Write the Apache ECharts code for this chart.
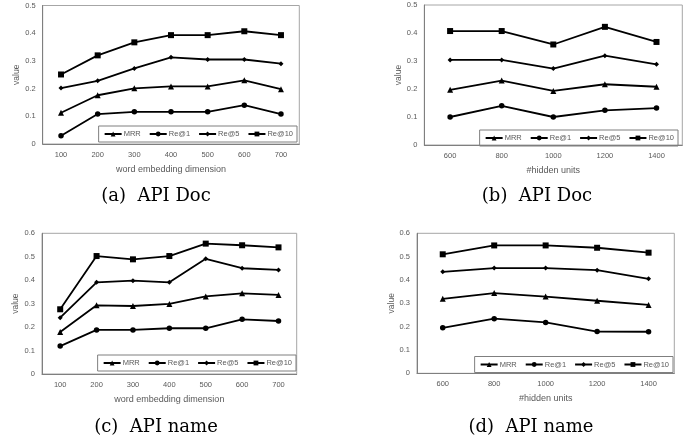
<!DOCTYPE html>
<html>
<head>
<meta charset="utf-8">
<script src="https://cdn.jsdelivr.net/npm/echarts@6/dist/echarts.min.js"></script>
<style>html,body{margin:0;padding:0;background:#fff}#c{width:690px;height:443px}</style>
</head>
<body>
<div id="c"></div>
<script>
// ---- data ----
const seriesNames = ['MRR', 'Re@1', 'Re@5', 'Re@10'];
const embedDims = ['100', '200', '300', '400', '500', '600', '700'];
const hiddenUnits = ['600', '800', '1000', '1200', '1400'];

// (a) API Doc - word embedding dimension
const aMRR  = [0.113, 0.176, 0.201, 0.208, 0.208, 0.230, 0.198];
const aRe1  = [0.030, 0.108, 0.116, 0.116, 0.116, 0.140, 0.108];
const aRe5  = [0.202, 0.228, 0.273, 0.313, 0.305, 0.305, 0.290];
const aRe10 = [0.251, 0.320, 0.367, 0.393, 0.393, 0.407, 0.393];

// (b) API Doc - hidden units
const bMRR  = [0.197, 0.230, 0.193, 0.217, 0.208];
const bRe1  = [0.100, 0.140, 0.100, 0.124, 0.132];
const bRe5  = [0.304, 0.304, 0.273, 0.319, 0.288];
const bRe10 = [0.407, 0.407, 0.359, 0.422, 0.368];

// (c) API name - word embedding dimension
const cMRR  = [0.179, 0.293, 0.290, 0.299, 0.331, 0.344, 0.337];
const cRe1  = [0.119, 0.188, 0.188, 0.195, 0.195, 0.233, 0.226];
const cRe5  = [0.240, 0.391, 0.398, 0.391, 0.491, 0.451, 0.444];
const cRe10 = [0.276, 0.503, 0.489, 0.503, 0.556, 0.549, 0.540];

// (d) API name - hidden units
const dMRR  = [0.319, 0.344, 0.329, 0.311, 0.293];
const dRe1  = [0.195, 0.234, 0.218, 0.179, 0.178];
const dRe5  = [0.435, 0.451, 0.451, 0.442, 0.405];
const dRe10 = [0.510, 0.548, 0.548, 0.538, 0.517];

const captions = ['(a)  API Doc', '(b)  API Doc', '(c)  API name', '(d)  API name'];
const xNames = ['word embedding dimension', '#hidden units', 'word embedding dimension', '#hidden units'];
const yMaxes = [0.5, 0.5, 0.6, 0.6];

// ---- layout ----
const panels = [
  { grid: {left: 42.7, top: 5.5, width: 256.6, height: 138.5}, cats: embedDims, data: [aMRR, aRe1, aRe5, aRe10], legend: {right: 393, top: 126}, cap: [156, 196.5] },
  { grid: {left: 424.3, top: 5, width: 258, height: 140}, cats: hiddenUnits, data: [bMRR, bRe1, bRe5, bRe10], legend: {right: 12, top: 130}, cap: [537, 196.5] },
  { grid: {left: 42, top: 233.3, width: 254.7, height: 140.7}, cats: embedDims, data: [cMRR, cRe1, cRe5, cRe10], legend: {right: 394, top: 355}, cap: [156, 427] },
  { grid: {left: 417, top: 233.3, width: 257.3, height: 140}, cats: hiddenUnits, data: [dMRR, dRe1, dRe5, dRe10], legend: {right: 17, top: 356.5}, cap: [531, 427] }
];
const yNameGaps = [22, 20, 22, 20];

const symbols = ['triangle', 'circle', 'diamond', 'rect'];
const symSizes = [6, 5.5, 5, 6];
const gray = '#595959';

const option = {
  animation: false,
  grid: [], xAxis: [], yAxis: [], series: [], legend: [], graphic: []
};

panels.forEach((p, i) => {
  option.grid.push(Object.assign({show: true, borderColor: '#a6a6a6', borderWidth: 1, containLabel: false}, p.grid));
  option.xAxis.push({
    type: 'category', gridIndex: i, data: p.cats,
    name: xNames[i], nameLocation: 'middle', nameGap: 21,
    nameTextStyle: {color: gray, fontSize: 9, fontFamily: 'Liberation Sans'},
    axisLine: {lineStyle: {color: '#7f7f7f', width: 1}},
    axisTick: {show: false},
    axisLabel: {color: gray, fontSize: 7.5, margin: 7, fontFamily: 'Liberation Sans'},
    splitLine: {show: false}
  });
  option.yAxis.push({
    type: 'value', gridIndex: i, min: 0, max: yMaxes[i], interval: 0.1,
    name: 'value', nameLocation: 'middle', nameGap: yNameGaps[i],
    nameTextStyle: {color: gray, fontSize: 8.5, fontFamily: 'Liberation Sans'},
    axisLine: {show: true, lineStyle: {color: '#7f7f7f', width: 1}},
    axisTick: {show: false},
    axisLabel: {color: gray, fontSize: 7.5, margin: 7, fontFamily: 'Liberation Sans'},
    splitLine: {show: false}
  });
  seriesNames.forEach((n, k) => {
    option.series.push({
      type: 'line', name: n, xAxisIndex: i, yAxisIndex: i, data: p.data[k],
      symbol: symbols[k], symbolSize: symSizes[k], showAllSymbol: true,
      lineStyle: {color: '#000', width: 1.8},
      itemStyle: {color: '#000'},
      emphasis: {disabled: true}
    });
  });
  option.legend.push({
    data: seriesNames, right: p.legend.right, top: p.legend.top,
    orient: 'horizontal', itemWidth: 17, itemHeight: 6, itemGap: 8,
    borderColor: '#7f7f7f', borderWidth: 1, padding: [4, 4, 4, 5],
    textStyle: {color: gray, fontSize: 7.5, fontFamily: 'Liberation Sans', padding: [0, 0, 0, -3]},
    selectedMode: false
  });
  option.graphic.push({
    type: 'text', x: p.cap[0], y: p.cap[1],
    style: {text: captions[i], font: '18px "DejaVu Serif"', fill: '#000', textAlign: 'center', textVerticalAlign: 'middle'}
  });
});

const chart = echarts.init(document.getElementById('c'), null, {renderer: 'canvas'});
chart.setOption(option);
</script>
</body>
</html>
